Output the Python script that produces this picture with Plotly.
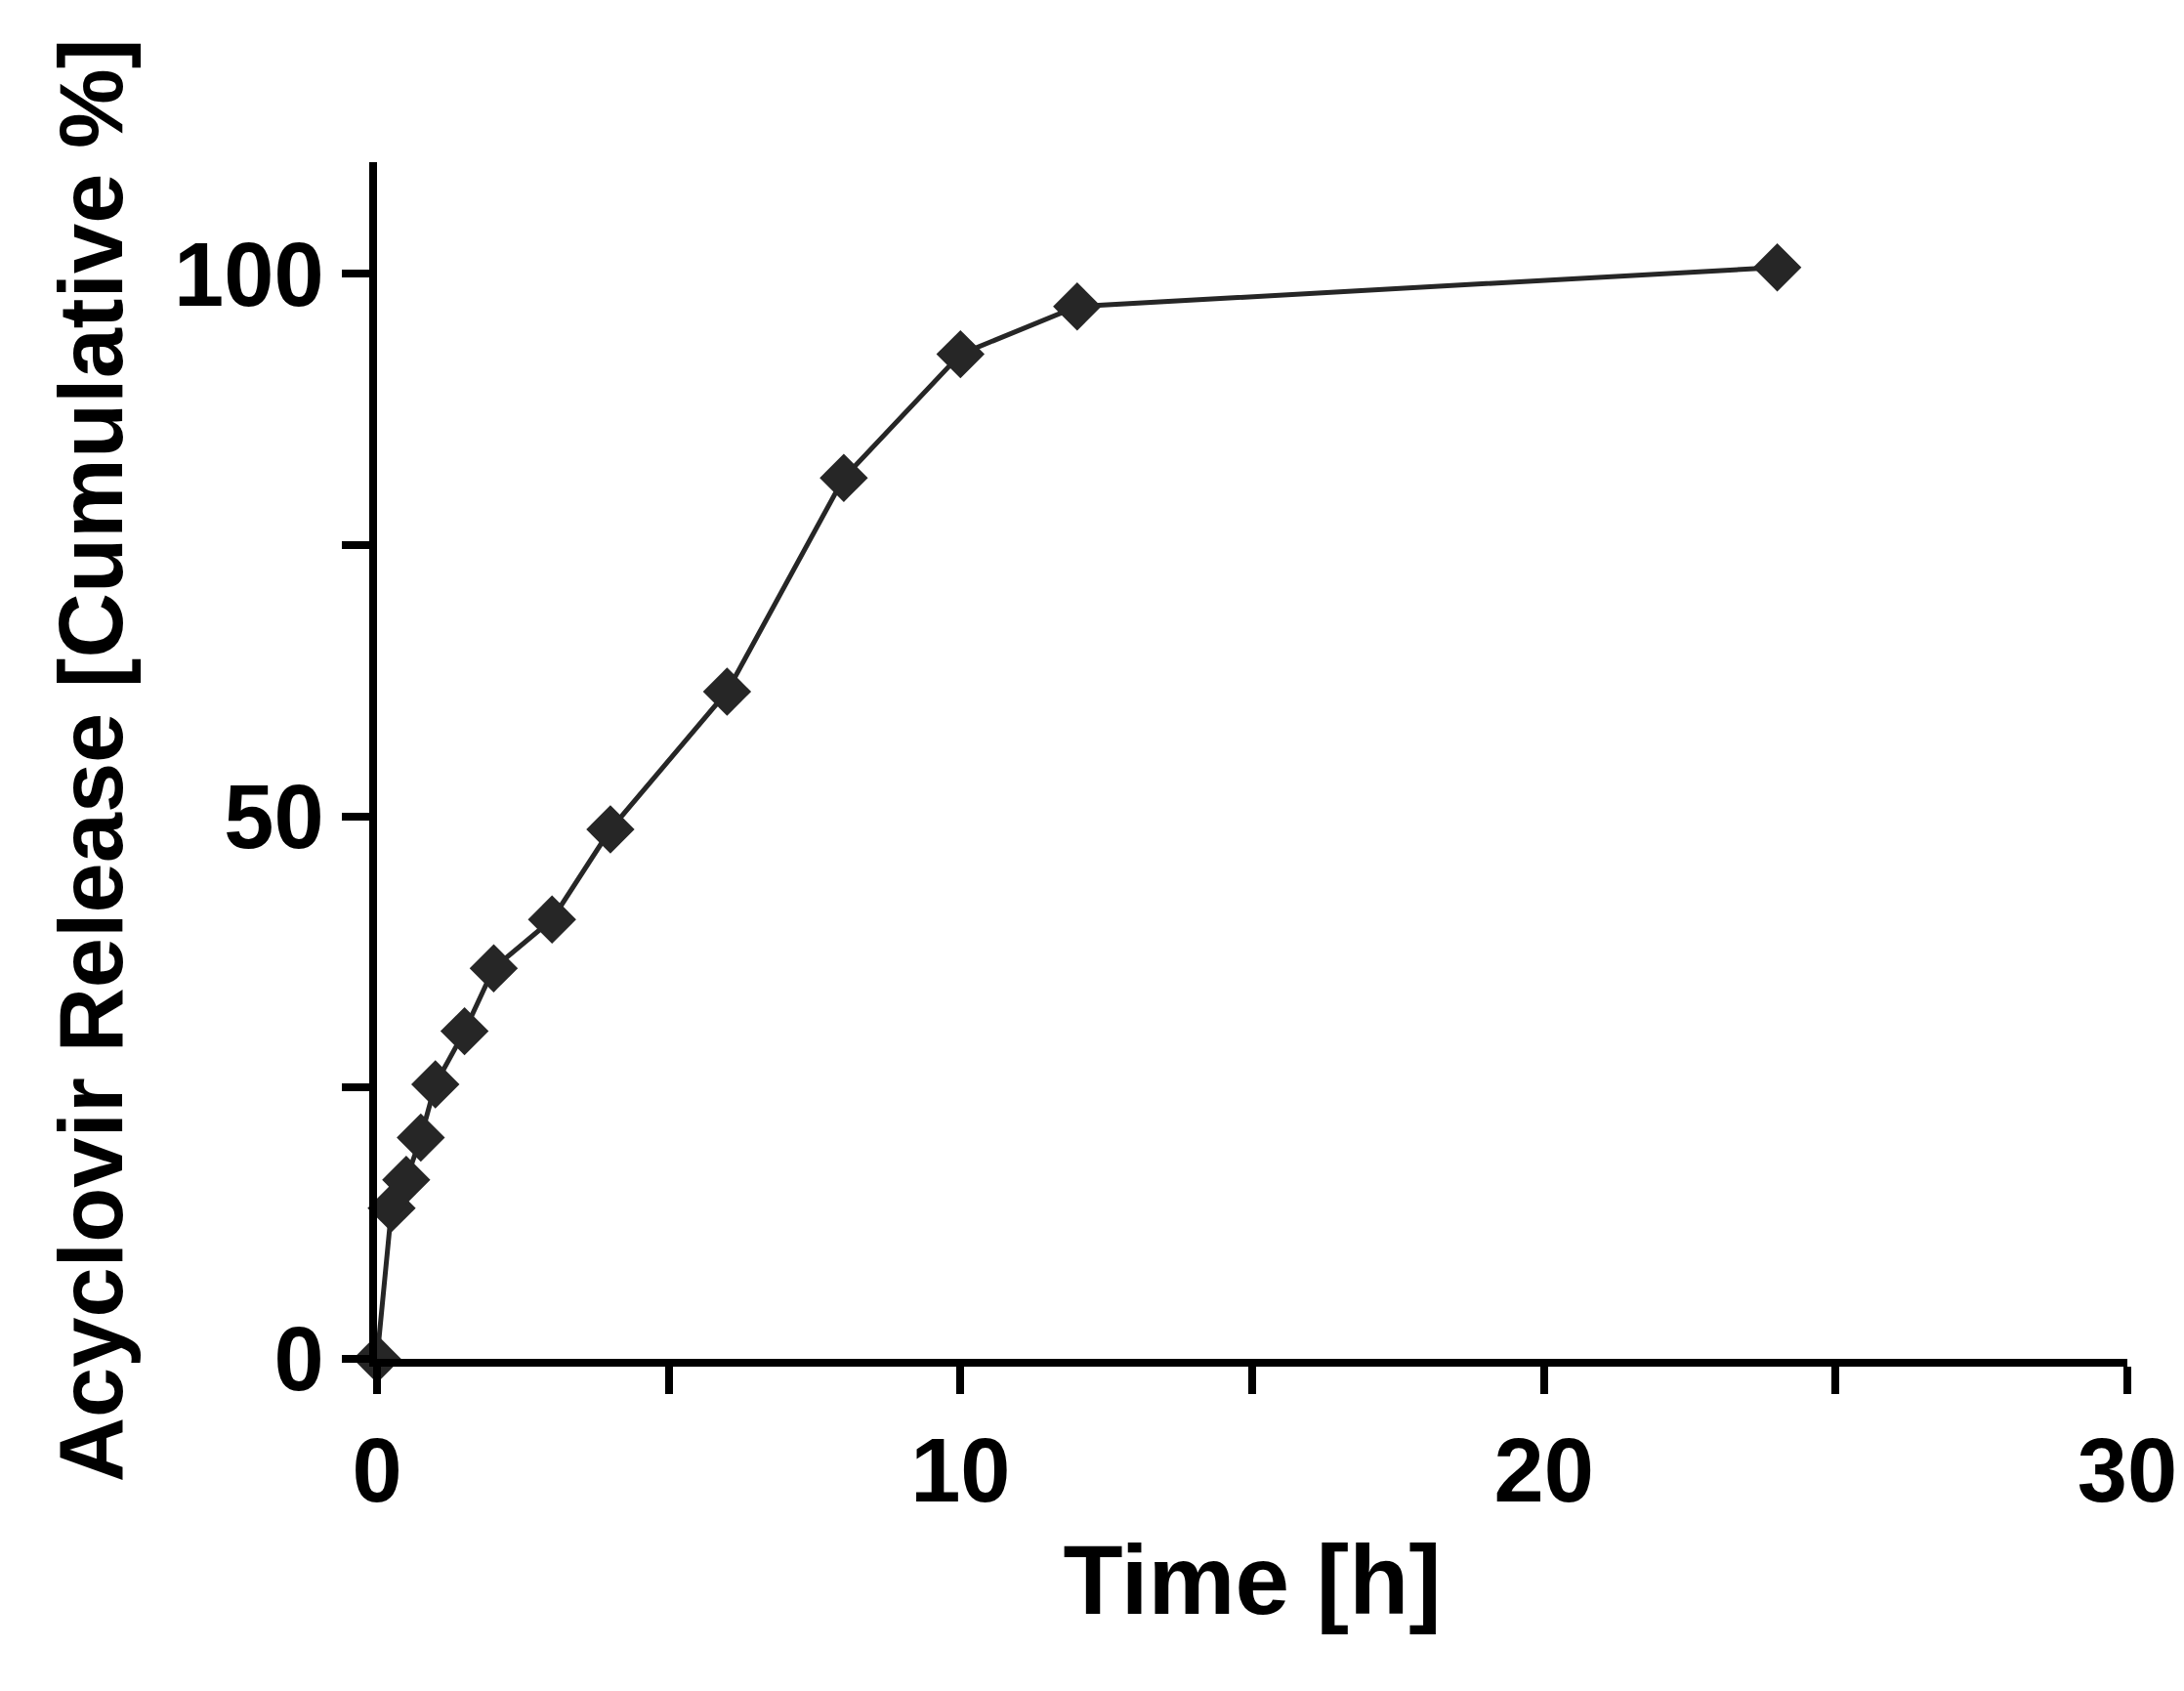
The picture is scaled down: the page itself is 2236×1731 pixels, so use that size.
import plotly.graph_objects as go

time_h = [0, 0.25, 0.5, 0.75, 1, 1.5, 2, 3, 4, 6, 8, 10, 12, 24]
release = [0, 13.9, 16.5, 20.4, 25.3, 30.2, 36.0, 40.5, 48.8, 61.5, 81.2, 92.6, 97.0, 100.6]
x_ticks = [0, 5, 10, 15, 20, 25, 30]
x_labels = ["0", "", "10", "", "20", "", "30"]
y_ticks = [0, 25, 50, 75, 100]
y_labels = ["0", "", "50", "", "100"]

fig = go.Figure(go.Scatter(
    x=time_h, y=release, mode="lines+markers",
    line=dict(color="#262626", width=5),
    marker=dict(symbol="diamond", size=38, color="#262626"),
    cliponaxis=False))

tf = dict(size=92, family="Liberation Sans", color="black", weight="bold")
fig.update_layout(
    width=2236, height=1731, paper_bgcolor="white", plot_bgcolor="white",
    margin=dict(l=378, r=66, t=158, b=348), showlegend=False,
    font=dict(family="Liberation Sans, Arial", size=74, color="black"),
    xaxis=dict(range=[0, 30], tickvals=x_ticks, ticktext=x_labels,
               showgrid=False, zeroline=False, showline=True, linecolor="black",
               linewidth=8, ticks="outside", ticklen=28, tickwidth=8, tickcolor="black",
               tickfont=tf,
               title=dict(text="<b>Time [h]</b>", font=dict(size=100), standoff=30)),
    yaxis=dict(range=[0, 110.3], tickvals=y_ticks, ticktext=y_labels,
               showgrid=False, zeroline=False, showline=True, linecolor="black",
               linewidth=8, ticks="outside", ticklen=28, tickwidth=8, tickcolor="black",
               tickfont=tf,
               title=dict(text="<b>Acyclovir Release [Cumulative %]</b>", font=dict(size=92), standoff=25)),
)
fig.write_html("out.html")
